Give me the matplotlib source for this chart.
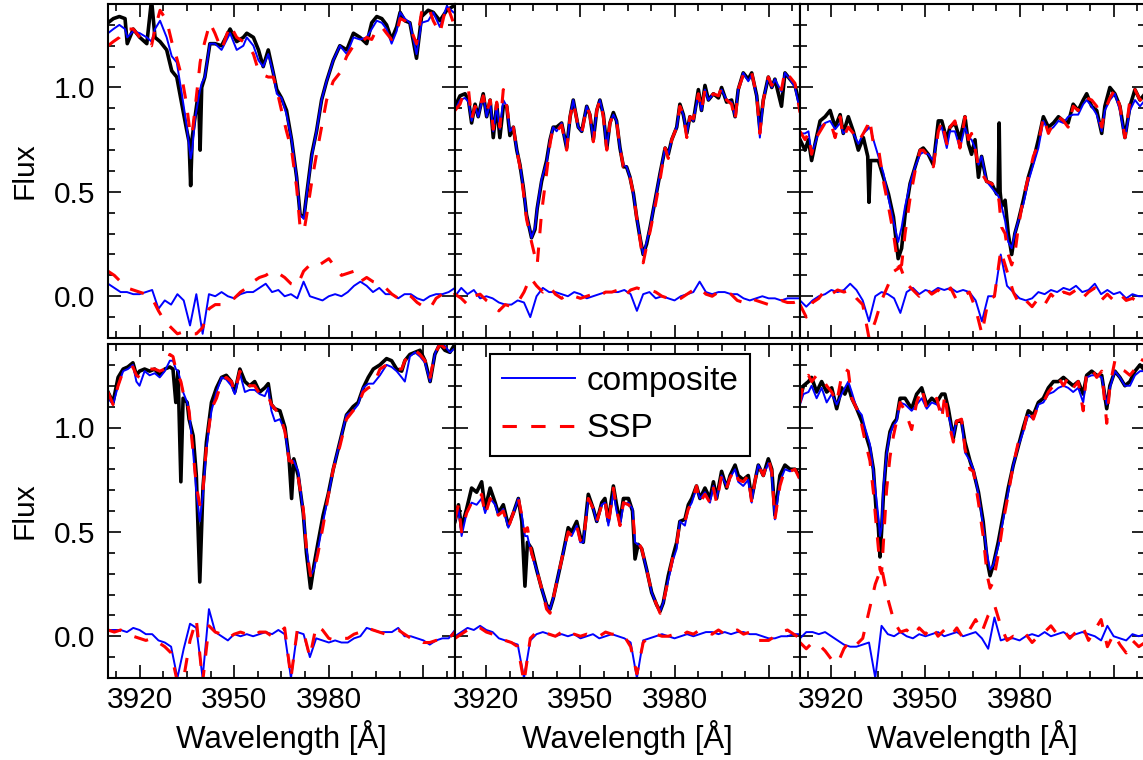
import numpy as np
import matplotlib
matplotlib.use("Agg")
import matplotlib.pyplot as plt
from matplotlib.ticker import FixedLocator, AutoMinorLocator, MultipleLocator

# ---- data ----
# common wavelength grid for the residual curves
res_wave = np.arange(3910, 4021, 2)

# panel 1 (top left)
wave_1 = [3910.0, 3911.7, 3913.6, 3915.4, 3916.1, 3918.0, 3920.1, 3922.3, 3923.8, 3924.9,
          3926.5, 3928.6, 3930.2, 3931.8, 3933.4, 3934.9, 3935.7, 3936.2, 3936.7, 3937.6,
          3938.7, 3939.2, 3939.7, 3940.7, 3942.3, 3943.9, 3946.0, 3948.7, 3950.8, 3952.9,
          3954.0, 3956.1, 3957.7, 3959.2, 3960.8, 3962.4, 3963.5, 3965.0, 3966.6, 3968.2,
          3969.8, 3970.9, 3972.1, 3973.0, 3974.6, 3976.1, 3977.7, 3979.3, 3981.4, 3983.5,
          3985.7, 3987.8, 3989.9, 3992.0, 3993.6, 3995.2, 3996.8, 3998.3, 3999.9, 4001.5,
          4002.6, 4004.1, 4005.7, 4007.8, 4009.4, 4011.5, 4013.1, 4015.2, 4017.4, 4019.5]
obs_1 = [1.31, 1.33, 1.34, 1.33, 1.21, 1.28, 1.24, 1.21, 1.42, 1.24,
         1.22, 1.18, 1.08, 1.05, 0.92, 0.80, 0.74, 0.53, 0.76, 0.86,
         0.98, 0.70, 1.00, 1.05, 1.21, 1.21, 1.20, 1.28, 1.22, 1.24,
         1.26, 1.24, 1.18, 1.10, 1.18, 1.07, 0.99, 0.95, 0.89, 0.75,
         0.57, 0.39, 0.38, 0.49, 0.68, 0.79, 0.94, 1.03, 1.13, 1.20,
         1.18, 1.26, 1.24, 1.21, 1.31, 1.34, 1.33, 1.30, 1.23, 1.29,
         1.36, 1.32, 1.31, 1.14, 1.34, 1.37, 1.36, 1.32, 1.37, 1.39]
comp_1 = [1.26, 1.28, 1.30, 1.28, 1.24, 1.27, 1.26, 1.24, 1.22, 1.28,
          1.32, 1.24, 1.15, 1.12, 0.97, 0.82, 0.72, 0.66, 0.70, 0.85,
          0.95, 0.99, 1.02, 1.05, 1.21, 1.21, 1.18, 1.26, 1.18, 1.20,
          1.24, 1.20, 1.13, 1.10, 1.16, 1.07, 0.97, 0.95, 0.87, 0.75,
          0.57, 0.39, 0.37, 0.49, 0.67, 0.79, 0.94, 1.03, 1.13, 1.20,
          1.16, 1.24, 1.23, 1.24, 1.28, 1.32, 1.31, 1.28, 1.21, 1.27,
          1.36, 1.33, 1.31, 1.16, 1.31, 1.32, 1.36, 1.29, 1.39, 1.36]
ssp_1 = [1.20, 1.22, 1.24, 1.28, 1.28, 1.28, 1.24, 1.21, 1.20, 1.28,
         1.37, 1.32, 1.22, 1.14, 1.05, 0.92, 0.82, 0.77, 0.78, 0.90,
         1.05, 1.12, 1.16, 1.22, 1.31, 1.26, 1.18, 1.30, 1.24, 1.22,
         1.21, 1.16, 1.08, 1.06, 1.05, 1.05, 0.99, 0.89, 0.79, 0.70,
         0.52, 0.33, 0.31, 0.39, 0.55, 0.68, 0.81, 0.94, 1.03, 1.07,
         1.15, 1.20, 1.21, 1.24, 1.23, 1.28, 1.29, 1.26, 1.23, 1.26,
         1.33, 1.32, 1.29, 1.21, 1.36, 1.39, 1.32, 1.26, 1.40, 1.31]
res_comp_1 = [0.06, 0.04, 0.02, 0.02, 0.01, 0.01, 0.02, 0.03, -0.06, -0.02,
              -0.04, 0.01, -0.02, -0.14, 0.01, -0.18, 0.01, 0.00, 0.02, 0.00,
              -0.01, 0.01, 0.02, 0.02, 0.04, 0.06, 0.02, 0.03, 0.00, 0.01,
              -0.01, 0.07, 0.00, -0.01, -0.02, 0.00, 0.01, 0.00, 0.02, 0.05,
              0.07, 0.05, 0.02, 0.04, 0.01, 0.01, -0.01, 0.01, 0.01, -0.01,
              -0.02, 0.00, 0.01, 0.01, 0.02, 0.04]
res_ssp_1 = [0.12, 0.10, 0.07, 0.04, 0.03, 0.02, 0.01, -0.01, -0.07, -0.12,
             -0.15, -0.18, -0.17, -0.18, -0.18, -0.15, -0.06, -0.04, -0.04, -0.02,
             -0.01, 0.02, 0.04, 0.07, 0.09, 0.10, 0.12, 0.11, 0.09, 0.06,
             0.05, 0.12, 0.15, 0.14, 0.16, 0.18, 0.14, 0.10, 0.11, 0.12,
             0.07, 0.09, 0.07, 0.06, 0.04, 0.01, -0.01, 0.01, 0.00, -0.03,
             -0.05, -0.06, -0.01, 0.01, -0.01, 0.01]

# panel 2 (top middle)
wave_2 = [3910.0, 3911.6, 3913.2, 3914.3, 3915.3, 3916.4, 3917.4, 3919.0, 3920.1, 3921.2,
          3922.2, 3923.3, 3924.3, 3925.4, 3926.5, 3927.5, 3928.6, 3929.7, 3930.7, 3931.8,
          3932.8, 3934.4, 3935.5, 3936.2, 3937.6, 3939.2, 3940.3, 3941.3, 3942.4, 3944.0,
          3945.6, 3946.7, 3947.7, 3949.3, 3950.4, 3952.0, 3953.0, 3954.1, 3955.2, 3956.2,
          3957.3, 3958.4, 3959.4, 3960.5, 3961.5, 3962.6, 3963.7, 3964.7, 3965.8, 3966.9,
          3967.9, 3969.0, 3970.0, 3971.1, 3972.2, 3973.8, 3975.4, 3977.0, 3978.0, 3979.1,
          3980.7, 3981.7, 3982.8, 3983.9, 3984.9, 3986.0, 3987.6, 3988.6, 3989.7, 3990.8,
          3992.4, 3994.0, 3995.0, 3996.6, 3998.2, 3999.3, 4000.3, 4001.9, 4003.5, 4004.6,
          4006.2, 4007.2, 4008.3, 4009.9, 4011.0, 4012.0, 4014.1, 4015.2, 4016.8, 4018.4,
          4020.0]
obs_2 = [0.91, 0.96, 0.97, 0.94, 0.83, 0.92, 0.86, 0.97, 0.86, 0.94,
         0.76, 0.92, 0.76, 0.91, 0.91, 0.77, 0.81, 0.70, 0.63, 0.52,
         0.39, 0.28, 0.32, 0.42, 0.55, 0.65, 0.75, 0.81, 0.81, 0.83,
         0.71, 0.86, 0.94, 0.81, 0.79, 0.91, 0.87, 0.75, 0.89, 0.94,
         0.87, 0.71, 0.83, 0.88, 0.84, 0.71, 0.62, 0.62, 0.57, 0.49,
         0.38, 0.28, 0.20, 0.25, 0.33, 0.46, 0.59, 0.71, 0.68, 0.75,
         0.81, 0.92, 0.87, 0.78, 0.86, 0.84, 0.99, 0.89, 1.01, 0.94,
         0.97, 0.95, 1.00, 0.93, 0.94, 0.86, 0.99, 1.07, 1.04, 1.07,
         0.96, 0.80, 0.94, 1.05, 1.00, 1.04, 0.91, 1.07, 1.04, 1.01,
         0.91]
comp_2 = [0.89, 0.94, 0.95, 0.93, 0.84, 0.91, 0.86, 0.96, 0.86, 0.93,
          0.79, 0.91, 0.80, 0.94, 0.91, 0.79, 0.81, 0.70, 0.63, 0.52,
          0.39, 0.28, 0.33, 0.42, 0.56, 0.64, 0.75, 0.81, 0.79, 0.83,
          0.71, 0.86, 0.94, 0.81, 0.79, 0.91, 0.87, 0.75, 0.89, 0.94,
          0.87, 0.71, 0.83, 0.87, 0.84, 0.71, 0.63, 0.62, 0.57, 0.49,
          0.38, 0.28, 0.20, 0.26, 0.33, 0.46, 0.59, 0.71, 0.68, 0.75,
          0.81, 0.91, 0.87, 0.78, 0.86, 0.84, 0.97, 0.89, 0.99, 0.94,
          0.97, 0.96, 0.99, 0.94, 0.93, 0.86, 0.99, 1.07, 1.03, 1.06,
          0.96, 0.76, 0.94, 1.05, 1.00, 1.04, 0.98, 1.07, 1.04, 1.00,
          0.89]
ssp_2 = [0.89, 0.92, 0.99, 0.99, 0.85, 0.91, 0.88, 0.96, 0.88, 0.94,
         0.80, 0.93, 0.81, 0.99, 0.91, 0.80, 0.81, 0.70, 0.62, 0.50,
         0.37, 0.26, 0.19, 0.15, 0.40, 0.59, 0.73, 0.81, 0.79, 0.82,
         0.70, 0.86, 0.93, 0.81, 0.78, 0.91, 0.87, 0.74, 0.89, 0.94,
         0.86, 0.70, 0.83, 0.87, 0.84, 0.71, 0.62, 0.62, 0.57, 0.49,
         0.38, 0.27, 0.16, 0.24, 0.31, 0.43, 0.56, 0.71, 0.66, 0.75,
         0.81, 0.91, 0.87, 0.76, 0.86, 0.85, 0.97, 0.89, 0.99, 0.95,
         0.97, 0.96, 1.00, 0.94, 0.92, 0.84, 0.99, 1.06, 1.04, 1.07,
         0.96, 0.78, 0.94, 1.05, 1.01, 1.04, 0.99, 1.08, 1.05, 1.02,
         0.88]
res_comp_2 = [0.00, 0.04, 0.01, 0.03, -0.01, 0.00, -0.01, -0.03, -0.04, -0.04,
              -0.02, -0.03, -0.10, 0.00, 0.04, 0.02, 0.02, 0.01, 0.00, 0.02,
              0.01, -0.01, 0.00, 0.01, 0.02, 0.02, 0.02, 0.03, 0.01, -0.07,
              0.01, 0.02, -0.01, 0.00, -0.01, -0.02, 0.00, 0.01, 0.02, 0.07,
              0.02, 0.01, 0.02, 0.02, 0.01, 0.01, -0.01, -0.02, -0.01, 0.00,
              -0.01, -0.01, -0.02, -0.01, -0.01, -0.01]
res_ssp_2 = [0.01, -0.01, -0.04, 0.00, 0.01, -0.02, -0.04, -0.07, -0.04, -0.05,
             -0.03, 0.02, 0.09, 0.05, 0.02, 0.05, 0.01, -0.01, 0.01, 0.00,
             -0.01, 0.00, 0.01, 0.00, 0.02, 0.02, 0.03, 0.00, 0.03, 0.04,
             0.03, 0.03, 0.02, 0.00, -0.01, -0.02, -0.01, 0.01, 0.03, 0.04,
             0.01, 0.00, 0.02, 0.02, 0.01, -0.02, -0.03, -0.01, -0.02, -0.03,
             -0.04, -0.04, -0.02, -0.03, -0.03, -0.02]

# panel 3 (top right)
wave_3 = [3910.0, 3911.6, 3912.7, 3913.7, 3914.8, 3916.4, 3918.0, 3919.6, 3921.2, 3922.8,
          3923.8, 3925.4, 3927.0, 3928.6, 3930.2, 3931.6, 3932.0, 3932.5, 3933.4, 3935.0,
          3936.6, 3938.2, 3939.8, 3941.3, 3942.4, 3943.5, 3945.1, 3946.7, 3948.3, 3949.3,
          3950.9, 3952.5, 3954.1, 3955.2, 3956.8, 3957.8, 3959.4, 3961.0, 3962.6, 3963.7,
          3964.7, 3965.8, 3966.9, 3967.9, 3969.5, 3971.1, 3972.7, 3973.2, 3973.5, 3973.8,
          3974.3, 3975.4, 3976.4, 3977.5, 3978.5, 3979.6, 3981.2, 3982.8, 3984.4, 3986.0,
          3987.6, 3989.2, 3990.8, 3992.4, 3994.0, 3995.5, 3997.1, 3998.7, 4000.3, 4001.4,
          4003.0, 4004.6, 4006.2, 4007.2, 4008.8, 4010.4, 4012.0, 4013.6, 4015.2, 4016.8,
          4018.4, 4020.0]
obs_3 = [0.75, 0.70, 0.75, 0.65, 0.73, 0.84, 0.86, 0.89, 0.81, 0.87,
         0.78, 0.86, 0.79, 0.70, 0.76, 0.67, 0.45, 0.65, 0.65, 0.65,
         0.57, 0.49, 0.38, 0.18, 0.23, 0.39, 0.54, 0.62, 0.70, 0.71,
         0.68, 0.63, 0.84, 0.84, 0.75, 0.81, 0.83, 0.75, 0.86, 0.73,
         0.68, 0.75, 0.57, 0.67, 0.55, 0.54, 0.49, 0.52, 0.83, 0.50,
         0.43, 0.46, 0.30, 0.20, 0.30, 0.36, 0.46, 0.57, 0.65, 0.75,
         0.86, 0.81, 0.83, 0.86, 0.84, 0.83, 0.92, 0.89, 0.94, 0.97,
         0.91, 0.89, 0.78, 0.91, 1.00, 0.97, 0.91, 0.76, 0.91, 0.99,
         0.94, 0.97]
comp_3 = [0.78, 0.78, 0.79, 0.68, 0.73, 0.81, 0.83, 0.84, 0.80, 0.83,
          0.78, 0.81, 0.78, 0.73, 0.78, 0.80, 0.81, 0.80, 0.75, 0.67,
          0.59, 0.47, 0.36, 0.26, 0.33, 0.43, 0.54, 0.62, 0.68, 0.69,
          0.68, 0.65, 0.79, 0.81, 0.71, 0.79, 0.79, 0.71, 0.81, 0.76,
          0.75, 0.71, 0.63, 0.67, 0.55, 0.52, 0.49, 0.48, 0.47, 0.45,
          0.43, 0.36, 0.26, 0.23, 0.30, 0.36, 0.44, 0.55, 0.63, 0.71,
          0.84, 0.79, 0.81, 0.84, 0.83, 0.86, 0.87, 0.87, 0.92, 0.94,
          0.91, 0.87, 0.79, 0.89, 0.94, 0.97, 0.89, 0.76, 0.89, 0.94,
          0.91, 0.94]
ssp_3 = [0.79, 0.75, 0.78, 0.68, 0.75, 0.79, 0.83, 0.84, 0.76, 0.86,
         0.76, 0.81, 0.78, 0.74, 0.78, 0.82, 0.85, 0.82, 0.73, 0.71,
         0.55, 0.43, 0.30, 0.14, 0.15, 0.30, 0.47, 0.60, 0.70, 0.70,
         0.67, 0.62, 0.79, 0.84, 0.73, 0.81, 0.84, 0.71, 0.86, 0.75,
         0.78, 0.71, 0.62, 0.59, 0.55, 0.54, 0.51, 0.48, 0.45, 0.40,
         0.33, 0.30, 0.20, 0.15, 0.20, 0.33, 0.47, 0.57, 0.67, 0.73,
         0.86, 0.78, 0.83, 0.86, 0.84, 0.81, 0.91, 0.89, 0.94, 0.95,
         0.94, 0.91, 0.81, 0.89, 0.95, 0.99, 0.91, 0.76, 0.94, 0.99,
         0.94, 0.95]
res_comp_3 = [-0.02, -0.05, -0.02, 0.00, 0.01, 0.03, 0.02, 0.03, 0.06, 0.03,
              -0.02, -0.12, 0.00, 0.02, 0.01, -0.01, -0.08, 0.02, 0.04, 0.01,
              0.03, 0.02, 0.04, 0.03, 0.04, 0.02, 0.03, 0.02, -0.02, -0.12,
              0.00, 0.00, 0.20, 0.05, 0.02, -0.01, -0.02, -0.01, 0.02, 0.01,
              0.03, 0.02, 0.04, 0.03, 0.05, 0.02, 0.03, 0.06, 0.01, 0.03,
              0.01, 0.02, -0.01, 0.01, 0.00, 0.00]
res_ssp_3 = [-0.04, -0.10, -0.03, -0.01, 0.03, 0.01, 0.03, 0.02, 0.03, -0.01,
             -0.04, -0.20, -0.12, -0.02, 0.05, 0.12, 0.14, 0.06, 0.03, 0.00,
             0.04, 0.01, 0.03, 0.00, 0.04, -0.02, 0.00, 0.02, -0.06, -0.18,
             -0.02, 0.00, 0.22, 0.12, 0.02, -0.04, -0.02, -0.05, -0.01, -0.04,
             0.01, -0.02, 0.02, 0.01, 0.03, -0.01, 0.02, 0.04, -0.02, 0.01,
             -0.02, 0.01, -0.02, -0.01, -0.03, -0.02]

# panel 4 (bottom left)
wave_4 = [3910.0, 3911.6, 3913.2, 3914.8, 3916.3, 3917.9, 3919.0, 3920.0, 3921.6, 3923.2,
          3924.8, 3926.4, 3928.0, 3929.6, 3930.6, 3931.5, 3932.2, 3933.1, 3933.8, 3935.1,
          3935.7, 3937.0, 3938.0, 3939.1, 3940.1, 3941.2, 3942.8, 3944.4, 3946.0, 3947.5,
          3949.1, 3950.2, 3951.8, 3953.4, 3954.9, 3956.5, 3958.1, 3959.7, 3960.8, 3961.8,
          3962.9, 3964.5, 3966.1, 3967.4, 3968.2, 3968.9, 3970.3, 3971.9, 3972.9, 3974.2,
          3975.3, 3976.6, 3978.2, 3979.8, 3981.4, 3983.5, 3985.6, 3987.7, 3989.3, 3990.9,
          3992.5, 3994.1, 3996.2, 3998.3, 3999.9, 4001.5, 4003.1, 4004.1, 4005.7, 4007.3,
          4008.9, 4010.5, 4012.1, 4013.6, 4015.2, 4016.8, 4018.4, 4020.0]
obs_4 = [1.17, 1.12, 1.24, 1.28, 1.29, 1.31, 1.25, 1.27, 1.28, 1.27,
         1.28, 1.25, 1.28, 1.29, 1.28, 1.12, 1.27, 0.74, 1.14, 1.12,
         1.04, 0.96, 0.77, 0.26, 0.71, 0.93, 1.12, 1.19, 1.24, 1.25,
         1.22, 1.17, 1.28, 1.22, 1.20, 1.22, 1.17, 1.19, 1.21, 1.11,
         1.09, 1.08, 1.00, 0.85, 0.66, 0.85, 0.77, 0.59, 0.40, 0.23,
         0.34, 0.45, 0.58, 0.68, 0.80, 0.93, 1.06, 1.10, 1.12, 1.19,
         1.24, 1.28, 1.30, 1.33, 1.32, 1.28, 1.27, 1.32, 1.35, 1.36,
         1.37, 1.32, 1.22, 1.35, 1.40, 1.37, 1.36, 1.40]
comp_4 = [1.14, 1.11, 1.20, 1.27, 1.28, 1.30, 1.22, 1.20, 1.27, 1.25,
          1.26, 1.24, 1.27, 1.32, 1.32, 1.28, 1.27, 1.22, 1.17, 1.12,
          1.08, 0.88, 0.69, 0.55, 0.68, 0.90, 1.08, 1.17, 1.24, 1.23,
          1.20, 1.16, 1.26, 1.17, 1.18, 1.18, 1.16, 1.15, 1.19, 1.08,
          1.03, 1.04, 0.98, 0.85, 0.84, 0.84, 0.79, 0.59, 0.42, 0.29,
          0.32, 0.42, 0.55, 0.67, 0.80, 0.93, 1.06, 1.08, 1.11, 1.19,
          1.21, 1.21, 1.25, 1.30, 1.29, 1.27, 1.24, 1.22, 1.34, 1.36,
          1.34, 1.31, 1.22, 1.35, 1.41, 1.39, 1.36, 1.38]
ssp_4 = [1.17, 1.11, 1.20, 1.27, 1.28, 1.29, 1.25, 1.24, 1.27, 1.28,
         1.28, 1.27, 1.28, 1.35, 1.34, 1.28, 1.25, 1.22, 1.17, 1.12,
         1.08, 0.88, 0.72, 0.63, 0.70, 0.91, 1.09, 1.14, 1.22, 1.24,
         1.22, 1.17, 1.27, 1.22, 1.20, 1.20, 1.16, 1.16, 1.15, 1.11,
         1.09, 1.06, 0.98, 0.84, 0.84, 0.80, 0.76, 0.61, 0.42, 0.29,
         0.31, 0.40, 0.53, 0.67, 0.80, 0.91, 1.04, 1.08, 1.11, 1.17,
         1.19, 1.20, 1.28, 1.30, 1.30, 1.28, 1.28, 1.32, 1.35, 1.37,
         1.35, 1.32, 1.24, 1.35, 1.40, 1.38, 1.35, 1.37]
res_comp_4 = [0.03, 0.03, 0.03, 0.02, 0.04, 0.03, 0.01, 0.01, -0.02, -0.03,
              -0.05, -0.20, -0.06, 0.06, 0.04, -0.20, 0.13, 0.02, 0.00, -0.02,
              0.01, 0.00, 0.01, 0.00, 0.01, 0.02, 0.01, 0.03, 0.01, -0.20,
              0.02, 0.01, -0.10, -0.01, -0.02, -0.03, -0.02, -0.03, -0.03, -0.01,
              0.00, 0.04, 0.03, 0.02, 0.02, 0.02, 0.04, 0.00, 0.00, -0.01,
              -0.02, -0.04, -0.02, -0.01, -0.01, 0.03]
res_ssp_4 = [0.03, 0.02, 0.03, 0.01, 0.00, -0.01, -0.02, -0.01, -0.03, -0.05,
             -0.08, -0.22, -0.20, -0.02, 0.08, -0.22, 0.05, 0.02, 0.01, -0.01,
             0.01, 0.02, 0.01, 0.00, 0.02, 0.02, 0.00, 0.01, 0.04, -0.20,
             0.03, 0.02, -0.10, 0.05, 0.03, -0.01, -0.02, -0.01, -0.01, 0.01,
             0.02, 0.04, 0.03, 0.02, 0.01, 0.02, 0.03, 0.01, -0.01, -0.01,
             -0.03, -0.03, -0.02, -0.01, -0.01, 0.02]

# panel 5 (bottom middle)
wave_5 = [3910.0, 3911.1, 3912.1, 3913.7, 3915.3, 3916.9, 3918.5, 3919.6, 3921.2, 3922.8,
          3923.8, 3925.4, 3927.0, 3928.6, 3930.2, 3931.3, 3932.3, 3933.1, 3934.4, 3936.0,
          3937.6, 3939.2, 3940.3, 3941.3, 3942.9, 3944.5, 3946.1, 3947.2, 3948.8, 3949.9,
          3950.9, 3952.5, 3954.1, 3955.2, 3956.8, 3957.8, 3958.9, 3960.5, 3961.5, 3962.6,
          3963.7, 3965.3, 3966.6, 3967.4, 3968.4, 3969.5, 3971.1, 3972.7, 3974.3, 3975.4,
          3976.4, 3978.0, 3979.6, 3980.7, 3981.7, 3983.3, 3984.4, 3985.5, 3987.0, 3988.1,
          3989.7, 3991.3, 3992.4, 3993.4, 3995.0, 3996.6, 3997.7, 3999.3, 4000.3, 4001.9,
          4003.5, 4004.6, 4005.6, 4006.7, 4008.3, 4009.9, 4011.0, 4012.0, 4013.6, 4015.2,
          4016.8, 4018.4, 4020.0]
obs_5 = [0.55, 0.63, 0.52, 0.61, 0.71, 0.69, 0.74, 0.61, 0.71, 0.64,
         0.59, 0.63, 0.53, 0.59, 0.66, 0.55, 0.24, 0.45, 0.42, 0.32,
         0.23, 0.15, 0.13, 0.18, 0.29, 0.40, 0.52, 0.50, 0.55, 0.48,
         0.45, 0.68, 0.61, 0.55, 0.64, 0.66, 0.55, 0.72, 0.63, 0.55,
         0.66, 0.66, 0.60, 0.37, 0.44, 0.42, 0.32, 0.21, 0.15, 0.12,
         0.16, 0.29, 0.39, 0.45, 0.55, 0.56, 0.63, 0.66, 0.72, 0.66,
         0.71, 0.66, 0.74, 0.66, 0.79, 0.71, 0.77, 0.82, 0.77, 0.75,
         0.77, 0.66, 0.74, 0.82, 0.77, 0.85, 0.80, 0.58, 0.77, 0.82,
         0.80, 0.80, 0.77]
comp_5 = [0.55, 0.61, 0.48, 0.59, 0.64, 0.63, 0.66, 0.59, 0.66, 0.63,
          0.58, 0.61, 0.52, 0.59, 0.66, 0.58, 0.48, 0.48, 0.39, 0.32,
          0.23, 0.15, 0.13, 0.18, 0.29, 0.40, 0.50, 0.48, 0.53, 0.45,
          0.45, 0.66, 0.61, 0.55, 0.63, 0.64, 0.53, 0.69, 0.60, 0.53,
          0.63, 0.64, 0.61, 0.45, 0.44, 0.42, 0.32, 0.21, 0.15, 0.12,
          0.16, 0.27, 0.37, 0.42, 0.55, 0.53, 0.61, 0.64, 0.71, 0.66,
          0.69, 0.64, 0.72, 0.66, 0.77, 0.72, 0.76, 0.80, 0.74, 0.72,
          0.75, 0.64, 0.74, 0.82, 0.77, 0.83, 0.77, 0.56, 0.74, 0.80,
          0.79, 0.80, 0.75]
ssp_5 = [0.56, 0.63, 0.50, 0.59, 0.64, 0.64, 0.68, 0.58, 0.66, 0.61,
         0.58, 0.60, 0.52, 0.59, 0.66, 0.58, 0.50, 0.52, 0.40, 0.32,
         0.23, 0.13, 0.11, 0.18, 0.29, 0.40, 0.50, 0.48, 0.53, 0.46,
         0.45, 0.66, 0.61, 0.55, 0.63, 0.66, 0.53, 0.71, 0.61, 0.53,
         0.64, 0.63, 0.61, 0.45, 0.45, 0.42, 0.32, 0.21, 0.15, 0.11,
         0.16, 0.27, 0.39, 0.44, 0.55, 0.55, 0.61, 0.64, 0.72, 0.64,
         0.68, 0.64, 0.71, 0.64, 0.77, 0.71, 0.76, 0.80, 0.75, 0.74,
         0.77, 0.64, 0.74, 0.82, 0.77, 0.85, 0.79, 0.56, 0.72, 0.80,
         0.79, 0.80, 0.75]
res_comp_5 = [0.00, 0.02, 0.04, 0.03, 0.05, 0.03, 0.02, -0.01, -0.02, -0.03,
              -0.04, -0.20, -0.02, 0.01, 0.02, 0.01, 0.00, 0.01, 0.00, 0.01,
              -0.01, 0.00, 0.01, -0.01, 0.00, 0.01, 0.00, -0.01, -0.03, -0.20,
              -0.02, -0.01, 0.00, 0.01, 0.00, -0.01, 0.00, 0.01, 0.00, 0.01,
              0.02, 0.02, 0.01, 0.02, 0.01, 0.02, 0.02, 0.01, 0.01, 0.00,
              -0.01, -0.01, 0.00, 0.00, 0.01, 0.01]
res_ssp_5 = [-0.01, 0.01, 0.03, 0.05, 0.04, 0.02, 0.01, -0.01, -0.02, -0.03,
             -0.05, -0.22, -0.01, 0.02, 0.02, 0.01, 0.00, 0.02, 0.00, 0.01,
             0.00, 0.01, 0.00, 0.00, 0.02, 0.01, 0.01, 0.00, -0.05, -0.18,
             -0.03, 0.00, 0.01, 0.00, 0.00, 0.01, 0.00, 0.02, 0.01, 0.03,
             0.02, 0.01, 0.03, 0.01, 0.02, 0.03, 0.01, 0.02, -0.02, -0.02,
             -0.02, 0.00, 0.02, 0.03, 0.01, -0.01]

# panel 6 (bottom right)
wave_6 = [3910.0, 3911.1, 3912.7, 3913.7, 3915.3, 3916.9, 3918.5, 3920.1, 3921.7, 3923.3,
          3924.3, 3925.4, 3926.5, 3928.1, 3929.7, 3930.7, 3932.3, 3933.4, 3934.2, 3935.0,
          3935.5, 3936.0, 3936.6, 3937.6, 3938.7, 3939.8, 3940.8, 3941.9, 3943.5, 3945.6,
          3947.2, 3948.8, 3950.4, 3952.0, 3953.6, 3955.2, 3956.2, 3957.3, 3958.9, 3959.9,
          3961.5, 3962.6, 3964.2, 3965.3, 3966.9, 3968.4, 3969.7, 3970.6, 3971.6, 3973.2,
          3974.8, 3976.4, 3978.0, 3979.6, 3981.2, 3982.8, 3984.4, 3986.0, 3987.6, 3989.2,
          3990.8, 3992.4, 3994.0, 3995.5, 3997.1, 3998.7, 4000.3, 4001.4, 4003.0, 4004.6,
          4006.2, 4007.8, 4008.8, 4010.4, 4012.0, 4013.6, 4015.2, 4016.8, 4018.4, 4019.5]
obs_6 = [1.14, 1.20, 1.22, 1.24, 1.17, 1.22, 1.17, 1.19, 1.09, 1.19,
         1.16, 1.20, 1.14, 1.09, 1.03, 0.98, 0.90, 0.80, 0.62, 0.52,
         0.38, 0.50, 0.68, 0.88, 0.98, 1.02, 1.04, 1.14, 1.14, 1.09,
         1.16, 1.19, 1.11, 1.14, 1.12, 1.16, 1.16, 1.09, 0.95, 1.03,
         1.03, 0.93, 0.84, 0.79, 0.69, 0.55, 0.36, 0.29, 0.34, 0.45,
         0.58, 0.71, 0.82, 0.91, 1.00, 1.08, 1.06, 1.12, 1.14, 1.19,
         1.22, 1.22, 1.24, 1.22, 1.20, 1.22, 1.16, 1.25, 1.27, 1.25,
         1.25, 1.09, 1.20, 1.27, 1.24, 1.20, 1.22, 1.27, 1.30, 1.28]
comp_6 = [1.11, 1.16, 1.17, 1.20, 1.14, 1.19, 1.12, 1.16, 1.11, 1.16,
          1.19, 1.22, 1.17, 1.09, 1.06, 1.00, 0.92, 0.79, 0.68, 0.57,
          0.48, 0.52, 0.72, 0.87, 0.97, 1.01, 1.03, 1.12, 1.11, 1.08,
          1.11, 1.14, 1.09, 1.12, 1.11, 1.08, 1.12, 1.06, 0.96, 1.03,
          1.04, 0.88, 0.84, 0.80, 0.68, 0.53, 0.39, 0.32, 0.34, 0.43,
          0.56, 0.69, 0.82, 0.91, 0.98, 1.06, 1.04, 1.11, 1.12, 1.16,
          1.17, 1.19, 1.20, 1.19, 1.17, 1.19, 1.12, 1.24, 1.25, 1.25,
          1.24, 1.11, 1.19, 1.27, 1.24, 1.20, 1.20, 1.25, 1.27, 1.27]
ssp_6 = [1.12, 1.22, 1.25, 1.22, 1.25, 1.24, 1.20, 1.17, 1.12, 1.25,
         1.28, 1.27, 1.14, 1.09, 1.01, 0.94, 0.84, 0.69, 0.55, 0.42,
         0.32, 0.30, 0.45, 0.70, 0.86, 0.96, 1.03, 1.12, 1.08, 0.99,
         1.12, 1.19, 1.09, 1.12, 1.14, 1.04, 1.16, 1.03, 0.93, 1.03,
         1.04, 0.90, 0.80, 0.79, 0.64, 0.48, 0.29, 0.23, 0.26, 0.39,
         0.55, 0.68, 0.82, 0.93, 0.98, 1.09, 1.04, 1.11, 1.12, 1.17,
         1.20, 1.24, 1.20, 1.24, 1.19, 1.22, 1.08, 1.27, 1.28, 1.24,
         1.27, 1.02, 1.20, 1.32, 1.28, 1.27, 1.25, 1.28, 1.33, 1.32]
res_comp_6 = [-0.01, 0.02, 0.02, 0.01, 0.02, 0.00, -0.02, -0.04, -0.05, -0.05,
              -0.04, -0.03, -0.20, 0.05, 0.01, 0.00, 0.02, 0.00, -0.01, 0.01,
              0.00, 0.01, 0.02, 0.00, 0.01, 0.02, 0.00, 0.01, 0.02, -0.01,
              -0.06, 0.09, -0.02, -0.01, -0.01, -0.02, 0.00, 0.01, 0.00, 0.02,
              0.00, 0.01, 0.02, 0.00, 0.01, 0.02, 0.01, 0.00, -0.02, 0.05,
              0.00, -0.01, -0.02, 0.01, 0.00, 0.01]
res_ssp_6 = [-0.03, -0.06, -0.03, -0.04, -0.07, -0.11, -0.13, -0.06, -0.02, -0.04,
             -0.01, 0.12, 0.25, 0.33, 0.18, 0.07, 0.02, 0.03, 0.00, 0.04,
             0.01, 0.05, 0.00, 0.03, 0.00, 0.04, -0.01, 0.03, 0.08, 0.02,
             0.10, 0.15, 0.05, -0.02, 0.00, -0.01, 0.01, -0.03, 0.00, 0.02,
             0.05, 0.01, 0.03, -0.01, 0.02, 0.05, -0.02, 0.03, 0.08, -0.05,
             0.01, -0.04, -0.08, -0.02, -0.05, -0.03]

panels = [
    (wave_1, obs_1, comp_1, ssp_1, res_comp_1, res_ssp_1),
    (wave_2, obs_2, comp_2, ssp_2, res_comp_2, res_ssp_2),
    (wave_3, obs_3, comp_3, ssp_3, res_comp_3, res_ssp_3),
    (wave_4, obs_4, comp_4, ssp_4, res_comp_4, res_ssp_4),
    (wave_5, obs_5, comp_5, ssp_5, res_comp_5, res_ssp_5),
    (wave_6, obs_6, comp_6, ssp_6, res_comp_6, res_ssp_6),
]

xticks = [3920, 3950, 3980, 4010]
xticklabels = ['3920', '3950', '3980', '']
yticks = [0.0, 0.5, 1.0]

# ---- figure ----
plt.rcParams['font.family'] = ['Liberation Sans', 'DejaVu Sans']

W, H = 1143, 760
fig = plt.figure(figsize=(W / 100, H / 100), dpi=100)

cols = [(108, 347), (455, 345), (800, 345)]   # left, width in px
rows = [(4, 334), (344, 334)]                 # top, height in px

dash = (4.7, 4.7)

for i, (wave, obs, comp, ssp, rc, rs) in enumerate(panels):
    r, c = divmod(i, 3)
    left, w = cols[c]
    top, h = rows[r]
    ax = fig.add_axes([left / W, 1 - (top + h) / H, w / W, h / H])

    ax.plot(wave, obs, color='black', lw=2.6)
    l1, = ax.plot(wave, comp, color='blue', lw=1.4, label='composite')
    l2, = ax.plot(wave, ssp, color='red', lw=2.2, dashes=dash, label='SSP')
    ax.plot(res_wave, rc, color='blue', lw=1.4)
    ax.plot(res_wave, rs, color='red', lw=2.2, dashes=dash)

    ax.set_xlim(3910, 4020)
    ax.set_ylim(-0.2, 1.4)
    ax.xaxis.set_major_locator(FixedLocator(xticks))
    ax.xaxis.set_minor_locator(AutoMinorLocator(4))
    ax.yaxis.set_major_locator(FixedLocator(yticks))
    ax.yaxis.set_minor_locator(MultipleLocator(0.1))
    ax.tick_params(which='both', direction='in', top=True, right=True,
                   width=1.2, labelsize=21.5)
    ax.tick_params(which='major', length=9.5)
    ax.tick_params(which='minor', length=5)
    ax.tick_params(axis='x', pad=6)
    ax.tick_params(axis='y', pad=9)
    for s in ax.spines.values():
        s.set_linewidth(1.5)

    if r == 1:
        ax.set_xticklabels(xticklabels)
        ax.set_xlabel('Wavelength [Å]', fontsize=22.5, labelpad=4)
    else:
        ax.set_xticklabels([])
    if c == 0:
        ax.set_yticklabels(['0.0', '0.5', '1.0'])
        ax.set_ylabel('Flux', fontsize=21.5, labelpad=11)
    else:
        ax.set_yticklabels([])

    if i == 4:
        leg = ax.legend(handles=[l1, l2], loc='upper left',
                        bbox_to_anchor=(0.101, 0.970), borderaxespad=0,
                        fontsize=24, handlelength=2.2, handletextpad=0.36,
                        borderpad=0.35, labelspacing=0.5, fancybox=False,
                        framealpha=1, edgecolor='black')
        leg.get_frame().set_linewidth(1.5)

fig.savefig('out.png', dpi=100)
